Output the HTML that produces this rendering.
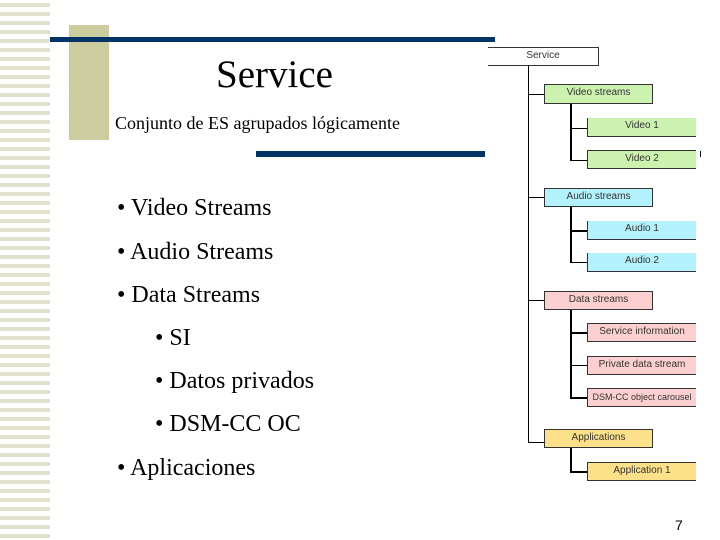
<!DOCTYPE html>
<html><head><meta charset="utf-8"><style>
body{margin:0;width:720px;height:540px;background:#fff;position:relative;overflow:hidden;font-family:"Liberation Serif",serif}
.a{position:absolute}
.b{position:absolute;border:1px solid #333;font-family:"Liberation Sans",sans-serif;font-size:10px;color:#333;text-align:center;box-sizing:border-box;line-height:16px;white-space:nowrap;overflow:hidden}
.l{position:absolute;background:#000}
.t{position:absolute;font-size:24px;color:#000;white-space:nowrap}
</style></head><body>
<div class="a" style="left:0;top:0;width:50px;height:540px;background:repeating-linear-gradient(#fff 0 3px,#e2e2cc 3px 7px,#fff 7px 9px)"></div>
<div class="a" style="left:69px;top:25px;width:40px;height:115px;background:#cccc9f"></div>
<div class="a" style="left:50px;top:37px;width:445px;height:5px;background:#003366"></div>
<div class="a" style="left:256px;top:151px;width:229px;height:6px;background:#003366"></div>
<div class="t" style="left:216px;top:52px;font-size:39px">Service</div>
<div class="t" style="left:115px;top:113px;font-size:18px">Conjunto de ES agrupados lógicamente</div>
<div class="t" style="left:117px;top:195px">• Video Streams</div>
<div class="t" style="left:117px;top:239px">• Audio Streams</div>
<div class="t" style="left:117px;top:282px">• Data Streams</div>
<div class="t" style="left:155px;top:325px">• SI</div>
<div class="t" style="left:155px;top:368px">• Datos privados</div>
<div class="t" style="left:155px;top:411px">• DSM-CC OC</div>
<div class="t" style="left:117px;top:455px">• Aplicaciones</div>
<div class="t" style="left:675px;top:517px;font-family:'Liberation Sans',sans-serif;font-size:14px">7</div>

<div class="b" style="left:488px;top:47px;width:111px;height:19px;background:#fff;border-left:none">Service</div>
<div class="l" style="left:528px;top:66px;width:1px;height:376px"></div>
<div class="l" style="left:528px;top:94px;width:16px;height:1px"></div>
<div class="l" style="left:528px;top:197px;width:16px;height:1px"></div>
<div class="l" style="left:528px;top:300px;width:16px;height:1px"></div>
<div class="l" style="left:528px;top:442px;width:16px;height:1px"></div>
<div class="b" style="left:544px;top:84px;width:109px;height:20px;background:#ccf2b0">Video streams</div>
<div class="b" style="left:544px;top:188px;width:109px;height:19px;background:#b3f2fc">Audio streams</div>
<div class="b" style="left:544px;top:291px;width:109px;height:19px;background:#fcd0d0">Data streams</div>
<div class="b" style="left:544px;top:429px;width:109px;height:19px;background:#fce08a">Applications</div>
<div class="l" style="left:570px;top:104px;width:2px;height:57px"></div>
<div class="l" style="left:570px;top:207px;width:2px;height:56px"></div>
<div class="l" style="left:570px;top:310px;width:2px;height:88px"></div>
<div class="l" style="left:570px;top:448px;width:2px;height:24px"></div>
<div class="l" style="left:570px;top:128px;width:17px;height:1px"></div>
<div class="l" style="left:570px;top:160px;width:17px;height:1px"></div>
<div class="l" style="left:570px;top:230px;width:17px;height:2px"></div>
<div class="l" style="left:570px;top:262px;width:17px;height:1px"></div>
<div class="l" style="left:570px;top:332px;width:17px;height:2px"></div>
<div class="l" style="left:570px;top:365px;width:17px;height:1px"></div>
<div class="l" style="left:570px;top:397px;width:17px;height:2px"></div>
<div class="l" style="left:570px;top:471px;width:17px;height:2px"></div>
<div class="b" style="left:587px;top:118px;width:109px;height:19px;background:#ccf2b0;border-right:none;border-top:none">Video 1</div>
<div class="b" style="left:587px;top:150px;width:109px;height:19px;background:#ccf2b0;border-right:none">Video 2</div>
<div class="b" style="left:587px;top:221px;width:109px;height:19px;background:#b3f2fc;border-right:none;border-top:none">Audio 1</div>
<div class="b" style="left:587px;top:253px;width:109px;height:19px;background:#b3f2fc;border-right:none;border-top:none">Audio 2</div>
<div class="b" style="left:587px;top:323px;width:109px;height:19px;background:#fcd0d0;border-right:none">Service information</div>
<div class="b" style="left:587px;top:356px;width:109px;height:19px;background:#fcd0d0;border-right:none">Private data stream</div>
<div class="b" style="left:587px;top:388px;width:109px;height:19px;background:#fcd0d0;border-right:none;font-size:9px">DSM-CC object carousel</div>
<div class="b" style="left:587px;top:462px;width:109px;height:19px;background:#fce08a;border-right:none">Application 1</div>
<div class="l" style="left:700px;top:151px;width:1px;height:6px"></div>
</body></html>
